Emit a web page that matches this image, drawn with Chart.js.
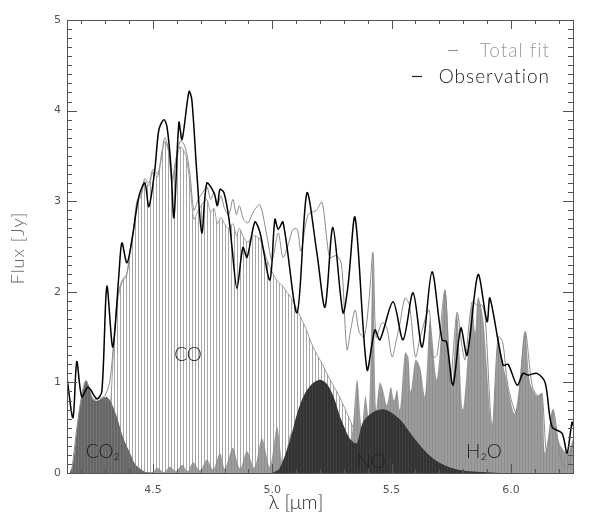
<!DOCTYPE html>
<html lang="en">
<head>
<meta charset="UTF-8">
<title>Spectrum fit</title>
<style>
  body { margin: 0; background: #fff; }
  canvas { display: block; }
</style>
<script src="https://cdn.jsdelivr.net/npm/chart.js"></script>
</head>
<body>
<canvas id="spec" width="594" height="518"></canvas>
<script>
// [wavelength (micron), flux (Jy)]
const observation = [[4.140,1.05],[4.165,0.61],[4.181,1.23],[4.202,0.84],[4.228,0.95],[4.265,0.82],[4.286,0.90],[4.307,2.06],[4.332,1.39],[4.358,2.21],[4.370,2.54],[4.391,2.32],[4.412,2.57],[4.441,3.05],[4.466,3.20],[4.483,2.94],[4.508,3.35],[4.525,3.79],[4.546,3.90],[4.559,3.82],[4.575,3.40],[4.588,2.82],[4.609,3.87],[4.622,3.68],[4.651,4.21],[4.663,4.12],[4.684,3.31],[4.705,2.65],[4.726,3.20],[4.756,3.09],[4.770,2.95],[4.781,3.13],[4.798,3.09],[4.819,2.80],[4.831,2.50],[4.852,2.04],[4.877,2.49],[4.894,2.38],[4.927,2.77],[4.948,2.66],[4.990,2.13],[5.011,2.80],[5.025,2.69],[5.045,2.77],[5.104,1.77],[5.145,3.09],[5.187,2.43],[5.221,1.83],[5.254,2.71],[5.296,1.77],[5.317,2.06],[5.347,2.82],[5.397,1.14],[5.430,1.58],[5.451,1.47],[5.506,1.89],[5.548,1.47],[5.590,1.99],[5.628,1.39],[5.669,2.22],[5.711,1.47],[5.730,1.45],[5.757,0.97],[5.790,1.60],[5.816,1.30],[5.862,2.19],[5.900,1.67],[5.912,1.93],[5.967,1.19],[5.988,1.20],[6.026,0.97],[6.051,1.10],[6.072,1.08],[6.109,1.10],[6.143,1.00],[6.172,0.51],[6.214,0.44],[6.235,0.22],[6.256,0.56],[6.264,0.50]];

const totalFit = [[4.160,0.02],[4.186,0.59],[4.205,0.90],[4.220,1.02],[4.249,0.82],[4.275,0.82],[4.300,0.86],[4.320,1.02],[4.337,1.50],[4.352,1.95],[4.370,2.12],[4.390,2.20],[4.404,2.45],[4.420,2.72],[4.433,3.00],[4.450,3.08],[4.466,3.25],[4.483,3.20],[4.500,3.35],[4.520,3.30],[4.538,3.55],[4.550,3.70],[4.565,3.58],[4.580,3.25],[4.595,3.45],[4.613,3.66],[4.625,3.65],[4.640,3.55],[4.655,3.30],[4.672,2.90],[4.690,3.02],[4.710,3.10],[4.726,3.16],[4.742,3.02],[4.756,3.10],[4.770,2.95],[4.785,3.06],[4.800,2.92],[4.818,2.85],[4.835,3.02],[4.850,2.85],[4.862,2.95],[4.880,2.80],[4.898,2.76],[4.920,2.88],[4.948,2.96],[4.978,2.61],[4.999,2.35],[5.025,2.65],[5.045,2.38],[5.070,2.55],[5.087,2.69],[5.105,2.69],[5.120,2.45],[5.150,2.85],[5.185,2.90],[5.208,2.99],[5.230,2.55],[5.242,2.38],[5.270,2.40],[5.290,2.30],[5.313,1.36],[5.330,1.60],[5.347,1.80],[5.365,1.55],[5.385,1.50],[5.405,1.90],[5.422,2.43],[5.435,1.50],[5.460,1.66],[5.480,1.60],[5.502,1.28],[5.520,1.47],[5.535,1.65],[5.556,1.93],[5.575,1.85],[5.600,1.28],[5.620,1.50],[5.657,1.80],[5.669,1.28],[5.690,1.30],[5.724,2.02],[5.745,0.99],[5.774,1.77],[5.795,1.40],[5.808,1.25],[5.837,1.89],[5.860,1.85],[5.880,1.85],[5.892,1.72],[5.921,0.51],[5.946,1.50],[5.965,1.45],[5.988,0.95],[6.025,0.66],[6.059,1.56],[6.090,0.95],[6.115,0.85],[6.130,0.88],[6.150,0.22],[6.176,0.70],[6.210,0.15],[6.235,0.05],[6.264,0.40]];

const coBand = [[4.300,0],[4.315,0.50],[4.325,0.85],[4.337,1.45],[4.352,1.90],[4.370,2.10],[4.390,2.18],[4.404,2.42],[4.420,2.70],[4.433,2.98],[4.450,3.05],[4.466,3.22],[4.483,3.17],[4.500,3.32],[4.520,3.27],[4.538,3.52],[4.550,3.66],[4.565,3.55],[4.580,3.20],[4.595,3.40],[4.613,3.60],[4.625,3.58],[4.640,3.48],[4.655,3.20],[4.672,2.80],[4.690,2.90],[4.710,2.98],[4.726,3.02],[4.742,2.88],[4.756,2.92],[4.770,2.75],[4.785,2.82],[4.800,2.75],[4.818,2.70],[4.835,2.75],[4.850,2.62],[4.862,2.70],[4.880,2.60],[4.898,2.55],[4.920,2.62],[4.948,2.58],[4.978,2.35],[5.000,2.22],[5.020,2.12],[5.045,2.06],[5.060,2.00],[5.075,1.95],[5.104,1.80],[5.140,1.60],[5.171,1.39],[5.210,1.20],[5.242,1.03],[5.280,0.85],[5.313,0.66],[5.355,0.40],[5.385,0.18],[5.409,0.08],[5.440,0.02],[5.480,0]];

const co2Band = [[4.150,0],[4.165,0.10],[4.186,0.59],[4.205,0.90],[4.220,1.02],[4.232,0.95],[4.249,0.81],[4.270,0.80],[4.290,0.83],[4.307,0.84],[4.325,0.78],[4.349,0.62],[4.374,0.40],[4.404,0.22],[4.425,0.10],[4.446,0.05],[4.470,0.01],[4.500,0]];

const noBand = [[5.000,0],[5.030,0.05],[5.074,0.36],[5.100,0.62],[5.129,0.84],[5.165,0.98],[5.200,1.03],[5.230,0.98],[5.260,0.82],[5.284,0.62],[5.300,0.52],[5.320,0.40],[5.340,0.34],[5.355,0.33],[5.380,0.56],[5.422,0.67],[5.472,0.70],[5.535,0.59],[5.590,0.40],[5.648,0.22],[5.703,0.11],[5.774,0.04],[5.883,0.01],[5.950,0]];

const h2oBand = [[4.400,0],[4.500,0.01],[4.517,0.06],[4.545,0.01],[4.571,0.07],[4.597,0.02],[4.622,0.09],[4.645,0.02],[4.668,0.12],[4.697,0.03],[4.726,0.15],[4.752,0.04],[4.781,0.22],[4.800,0.05],[4.815,0.14],[4.835,0.28],[4.865,0.05],[4.894,0.24],[4.925,0.06],[4.957,0.38],[4.990,0.07],[5.020,0.51],[5.045,0.10],[5.080,0.45],[5.110,0.12],[5.140,0.60],[5.170,0.15],[5.200,0.50],[5.230,0.20],[5.270,0.60],[5.300,0.25],[5.330,0.35],[5.355,1.03],[5.375,0.50],[5.390,0.85],[5.405,0.60],[5.422,2.45],[5.435,0.70],[5.450,1.00],[5.464,0.92],[5.480,0.75],[5.497,0.95],[5.510,0.80],[5.523,0.92],[5.535,0.70],[5.556,1.33],[5.570,1.28],[5.580,0.90],[5.600,1.25],[5.619,1.17],[5.640,0.85],[5.661,1.69],[5.690,1.03],[5.724,2.02],[5.753,0.95],[5.774,1.77],[5.799,0.70],[5.837,1.88],[5.850,1.55],[5.862,1.94],[5.883,1.72],[5.921,0.51],[5.946,1.50],[5.960,1.30],[5.975,1.10],[6.017,0.66],[6.059,1.56],[6.080,1.00],[6.110,0.85],[6.130,0.88],[6.143,0.22],[6.176,0.70],[6.200,0.35],[6.235,0.22],[6.264,0.40]];

const xTickLabels = [4.5, 5.0, 5.5, 6.0];
const yTickLabels = [0, 1, 2, 3, 4, 5];
const bandLabels = [
  { text: 'CO', wl: 4.647, flux: 1.30 },
  { text: 'CO\u2082', wl: 4.290, flux: 0.23 },
  { text: 'NO', wl: 5.414, flux: 0.12 },
  { text: 'H\u2082O', wl: 5.887, flux: 0.23 }
];

const canvas = document.getElementById('spec');
const ctx = canvas.getContext('2d');
const thin = '"Lato", "DejaVu Sans", sans-serif';

function stripes(base, line) {
  const c = document.createElement('canvas');
  c.width = 3; c.height = 1;
  const g = c.getContext('2d');
  g.fillStyle = base; g.fillRect(0, 0, 3, 1);
  g.fillStyle = line; g.fillRect(0, 0, 1, 1);
  return ctx.createPattern(c, 'repeat');
}

const toXY = arr => arr.map(([x, y]) => ({ x, y }));

function band(data, fillStyle, border) {
  return {
    data: toXY(data),
    backgroundColor: fillStyle,
    borderColor: border || 'rgba(0,0,0,0)',
    borderWidth: border ? 0.8 : 0,
    fill: 'origin',
    pointRadius: 0,
    tension: 0.3
  };
}

// ticks pointing inwards on all four sides + frame + texts
const frame = {
  id: 'frame',
  afterDatasetsDraw(chart) {
    const { ctx: c, scales: { x, y } } = chart;
    c.save();
    c.font = '300 19px ' + thin;
    c.fillStyle = '#222';
    c.textAlign = 'center';
    c.textBaseline = 'middle';
    bandLabels.forEach(l => c.fillText(l.text, x.getPixelForValue(l.wl), y.getPixelForValue(l.flux)));
    c.restore();
  },
  afterDraw(chart) {
    const { ctx: c, chartArea: a, scales: { x, y } } = chart;
    c.save();
    c.strokeStyle = '#555';
    c.lineWidth = 1;
    c.strokeRect(a.left + 0.5, a.top + 0.5, a.right - a.left, a.bottom - a.top);
    c.beginPath();
    for (let i = 42; i <= 62; i++) {
      const px = Math.round(x.getPixelForValue(i / 10)) + 0.5;
      const len = i % 5 === 0 ? 9 : 4;
      c.moveTo(px, a.bottom); c.lineTo(px, a.bottom - len);
      c.moveTo(px, a.top); c.lineTo(px, a.top + len);
    }
    for (let i = 0; i <= 50; i++) {
      const py = Math.round(y.getPixelForValue(i / 10)) + 0.5;
      const len = i % 10 === 0 ? 10 : 5;
      c.moveTo(a.left, py); c.lineTo(a.left + len, py);
      c.moveTo(a.right, py); c.lineTo(a.right - len, py);
    }
    c.stroke();

    // axis titles
    c.fillStyle = '#666';
    c.font = '300 18px ' + thin;
    c.textAlign = 'center';
    c.textBaseline = 'middle';
    c.save();
    c.translate(18, 248);
    c.rotate(-Math.PI / 2);
    c.letterSpacing = '1px';
    c.fillText('Flux [Jy]', 0, 0);
    c.restore();
    c.fillStyle = '#333';
    c.font = '300 20px ' + thin;
    c.fillText('\u03bb [\u03bcm]', 296, 503);

    // legend
    c.font = '300 19px ' + thin;
    c.letterSpacing = '1px';
    c.textAlign = 'right';
    c.textBaseline = 'alphabetic';
    c.fillStyle = '#999';
    c.fillText('Total fit', 550, 57);
    c.fillStyle = '#222';
    c.fillText('Observation', 550, 83);
    c.lineWidth = 1.2;
    c.strokeStyle = '#999';
    c.beginPath(); c.moveTo(448, 50.5); c.lineTo(458, 50.5); c.stroke();
    c.strokeStyle = '#222';
    c.beginPath(); c.moveTo(412, 76.5); c.lineTo(422, 76.5); c.stroke();
    c.restore();
  }
};

new Chart(ctx, {
  type: 'line',
  data: {
    datasets: [
      { label: 'Observation', data: toXY(observation), borderColor: '#000', borderWidth: 1.5, pointRadius: 0, fill: false, tension: 0.3 },
      { label: 'Total fit', data: toXY(totalFit), borderColor: '#8a8a8a', borderWidth: 1, pointRadius: 0, fill: false, tension: 0.3 },
      band(noBand, stripes('#333', '#3e3e3e')),
      band(co2Band, stripes('#666', '#757575')),
      band(h2oBand, stripes('#9c9c9c', '#8f8f8f')),
      band(coBand, stripes('#fff', '#a6a6a6'), '#888')
    ]
  },
  options: {
    responsive: false,
    animation: false,
    layout: { padding: { top: 20, right: 21, left: 0, bottom: 0 } },
    plugins: { legend: { display: false }, tooltip: { enabled: false } },
    scales: {
      x: {
        type: 'linear', min: 4.14, max: 6.26,
        grid: { display: false, drawTicks: false },
        border: { display: false },
        afterBuildTicks: s => { s.ticks = xTickLabels.map(v => ({ value: v })); },
        afterFit: s => { s.height = 45; },
        ticks: { padding: 11, color: '#555', font: { family: 'DejaVu Sans', size: 11 }, maxRotation: 0, callback: v => v.toFixed(1) }
      },
      y: {
        min: 0, max: 5,
        grid: { display: false, drawTicks: false },
        border: { display: false },
        afterBuildTicks: s => { s.ticks = yTickLabels.map(v => ({ value: v })); },
        afterFit: s => { s.width = 67; },
        ticks: { padding: 6, color: '#555', font: { family: 'DejaVu Sans', size: 11 } }
      }
    }
  },
  plugins: [frame]
});
</script>
</body>
</html>
